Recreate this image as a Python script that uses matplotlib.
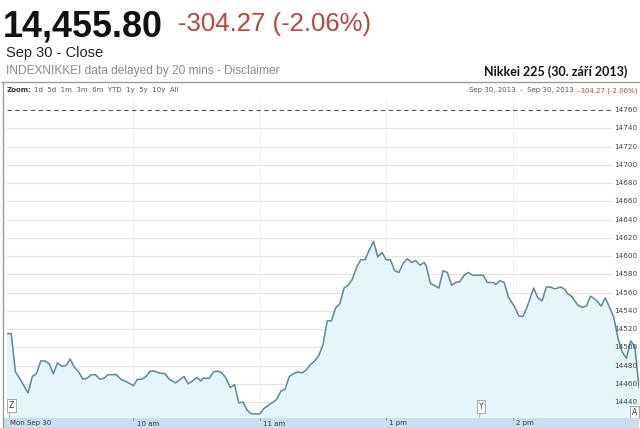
import matplotlib.pyplot as plt
from matplotlib.patches import Rectangle
from matplotlib.lines import Line2D

# minutes of trading since 9:00 (lunch break 11:30-12:30 removed)
minutes = [0, 2, 4, 6, 10, 12, 14, 16, 18, 20, 22, 24, 26, 28, 30, 32, 34, 36, 38, 40,
           42, 44, 46, 48, 52, 54, 56, 60, 62, 64, 66, 68, 70, 72, 75, 77, 80, 84, 86, 88,
           90, 92, 93, 96, 98, 100, 102, 104, 106, 108, 110, 112, 114, 116, 120, 122, 125, 127, 128, 130,
           132, 134, 136, 138, 140, 142, 144, 146, 148, 150, 152, 154, 156, 158, 160, 162, 164, 166, 168, 170,
           172, 174, 176, 178, 180, 182, 184, 186, 188, 190, 192, 194, 196, 198, 199, 201, 205, 207, 209, 211,
           213, 215, 217, 219, 221, 226, 228, 231, 232, 234, 236, 238, 241, 243, 245, 247, 250, 252, 254, 256,
           258, 260, 263, 265, 266, 268, 271, 273, 275, 277, 280, 282, 284, 286, 288, 290, 292, 294, 296, 298,
           300]
prices = [14515, 14515, 14473, 14466, 14450, 14468, 14471, 14485, 14485, 14482, 14471, 14483, 14479, 14480, 14487, 14478, 14473, 14465, 14466, 14470,
          14470, 14465, 14466, 14470, 14470, 14465, 14463, 14458, 14465, 14465, 14468, 14474, 14474, 14472, 14471, 14465, 14461, 14468, 14460, 14463,
          14467, 14463, 14466, 14466, 14473, 14474, 14472, 14466, 14456, 14459, 14439, 14440, 14431, 14427, 14427, 14433, 14438, 14441, 14443, 14452,
          14454, 14468, 14471, 14473, 14472, 14475, 14481, 14485, 14491, 14503, 14529, 14529, 14543, 14548, 14565, 14568, 14575, 14588, 14596, 14596,
          14607, 14616, 14599, 14604, 14596, 14596, 14584, 14582, 14592, 14597, 14593, 14595, 14590, 14593, 14589, 14570, 14565, 14584, 14582, 14568,
          14571, 14572, 14579, 14582, 14579, 14579, 14571, 14571, 14569, 14573, 14571, 14555, 14544, 14534, 14534, 14545, 14565, 14554, 14551, 14566,
          14566, 14564, 14566, 14563, 14559, 14556, 14546, 14544, 14545, 14556, 14551, 14545, 14554, 14544, 14533, 14510, 14495, 14488, 14507, 14501,
          14456]

prev_close = 14760
y_ticks = list(range(14440, 14761, 20))
x_ticks = [0, 60, 120, 180, 240]
x_labels = ["Mon Sep 30", "10 am", "11 am", "1 pm", "2 pm"]

W, H = 640, 428
fig = plt.figure(figsize=(6.4, 4.28), dpi=100)

def fx(px):
    return px / W

def fy(py):
    return 1 - py / H

# header texts
fig.text(fx(3), fy(37), "14,455.80", fontsize=25.8, fontweight="bold",
         family="Liberation Sans", va="baseline", color="#111111")
fig.text(fx(178), fy(31), "-304.27 (-2.06%)", fontsize=18.5,
         family="Liberation Sans", va="baseline", color="#b5483a")
fig.text(fx(6), fy(57), "Sep 30 - Close", fontsize=10.5,
         family="Liberation Sans", va="baseline", color="#222222")
fig.text(fx(6), fy(74), "INDEXNIKKEI data delayed by 20 mins - Disclaimer", fontsize=8.6,
         family="Liberation Sans", va="baseline", color="#8a8a8a")
fig.text(fx(627), fy(76), "Nikkei 225 (30. září 2013)", fontsize=9, fontweight="bold",
         family="Lato", va="baseline", ha="right", color="#111111")

# chart frame
fig.add_artist(Line2D([fx(2), fx(640)], [fy(82), fy(82)], color="#9a9a9a", lw=1))
fig.add_artist(Line2D([fx(2.5), fx(2.5)], [fy(82), fy(428)], color="#9a9a9a", lw=1))

# zoom bar
fig.text(fx(7), fy(92), "Zoom:", fontsize=5, fontweight="bold", family="DejaVu Sans", color="#333333")
fig.text(fx(34), fy(92), "1d  5d  1m  3m  6m  YTD  1y  5y  10y  All", fontsize=5,
         family="DejaVu Sans", color="#555555")
fig.text(fx(574), fy(92), "Sep 30, 2013  -  Sep 30, 2013", fontsize=5, ha="right",
         family="DejaVu Sans", color="#555555")
fig.text(fx(637), fy(92), "-304.27 (-2.06%)", fontsize=5, ha="right",
         family="DejaVu Sans", color="#b5483a")

# plot axes
ax = fig.add_axes([fx(7), fy(418), fx(639) - fx(7), fy(98) - fy(418)])
ax.set_xlim(0, 300)
ax.set_ylim(14422.5, 14773.2)
for s in ax.spines.values():
    s.set_visible(False)
ax.set_xticks([])
ax.set_yticks([])

for v in y_ticks[:-1]:
    ax.axhline(v, xmin=0, xmax=0.956, color="#e2e2e2", lw=0.8, zorder=1)
for t in x_ticks[1:]:
    ax.axvline(t, color="#eeeeee", lw=0.6, zorder=1)
ax.axhline(prev_close, xmin=0, xmax=0.956, color="#555555", lw=0.8, ls=(0, (4, 3)), zorder=3)

ax.fill_between(minutes, prices, 14422.5, color="#e6f4fc", zorder=2)
ax.plot(minutes, prices, color="#5b8a98", lw=1.1, zorder=4)

for v in y_ticks:
    ax.text(0.998, v, str(v), transform=ax.get_yaxis_transform(), ha="right", va="center",
            fontsize=5.2, family="DejaVu Sans", color="#444444", zorder=5)

# flags
flags = [("Z", 1, 14436), ("Y", 224, 14435), ("A", 298, 14429)]
for letter, t, v in flags:
    ax.plot([t, t], [14422.5, v], color="#aaaaaa", lw=0.6, zorder=5)
    ax.text(t, v, letter, fontsize=5.5, family="DejaVu Sans",
            ha="left" if letter != "A" else "center", va="center", color="#333333", zorder=6,
            bbox=dict(boxstyle="square,pad=0.25", fc="white", ec="#999999", lw=0.6))

# bottom time band
band = fig.add_axes([fx(3), 0, fx(639) - fx(3), fy(418)])
band.add_patch(Rectangle((0, 0), 1, 1, color="#c9def1", transform=band.transAxes))
band.set_xlim(-4 * 300 / 632, 300)
band.set_ylim(0, 1)
band.axis("off")
for t, lab in zip(x_ticks, x_labels):
    band.text(t + 1.5, 0.45, lab, fontsize=5, family="DejaVu Sans", va="center",
              ha="left", color="#333333")
    if t > 0:
        band.plot([t, t], [0.8, 1.0], color="#888888", lw=0.6)

fig.savefig("out.png", dpi=100)
